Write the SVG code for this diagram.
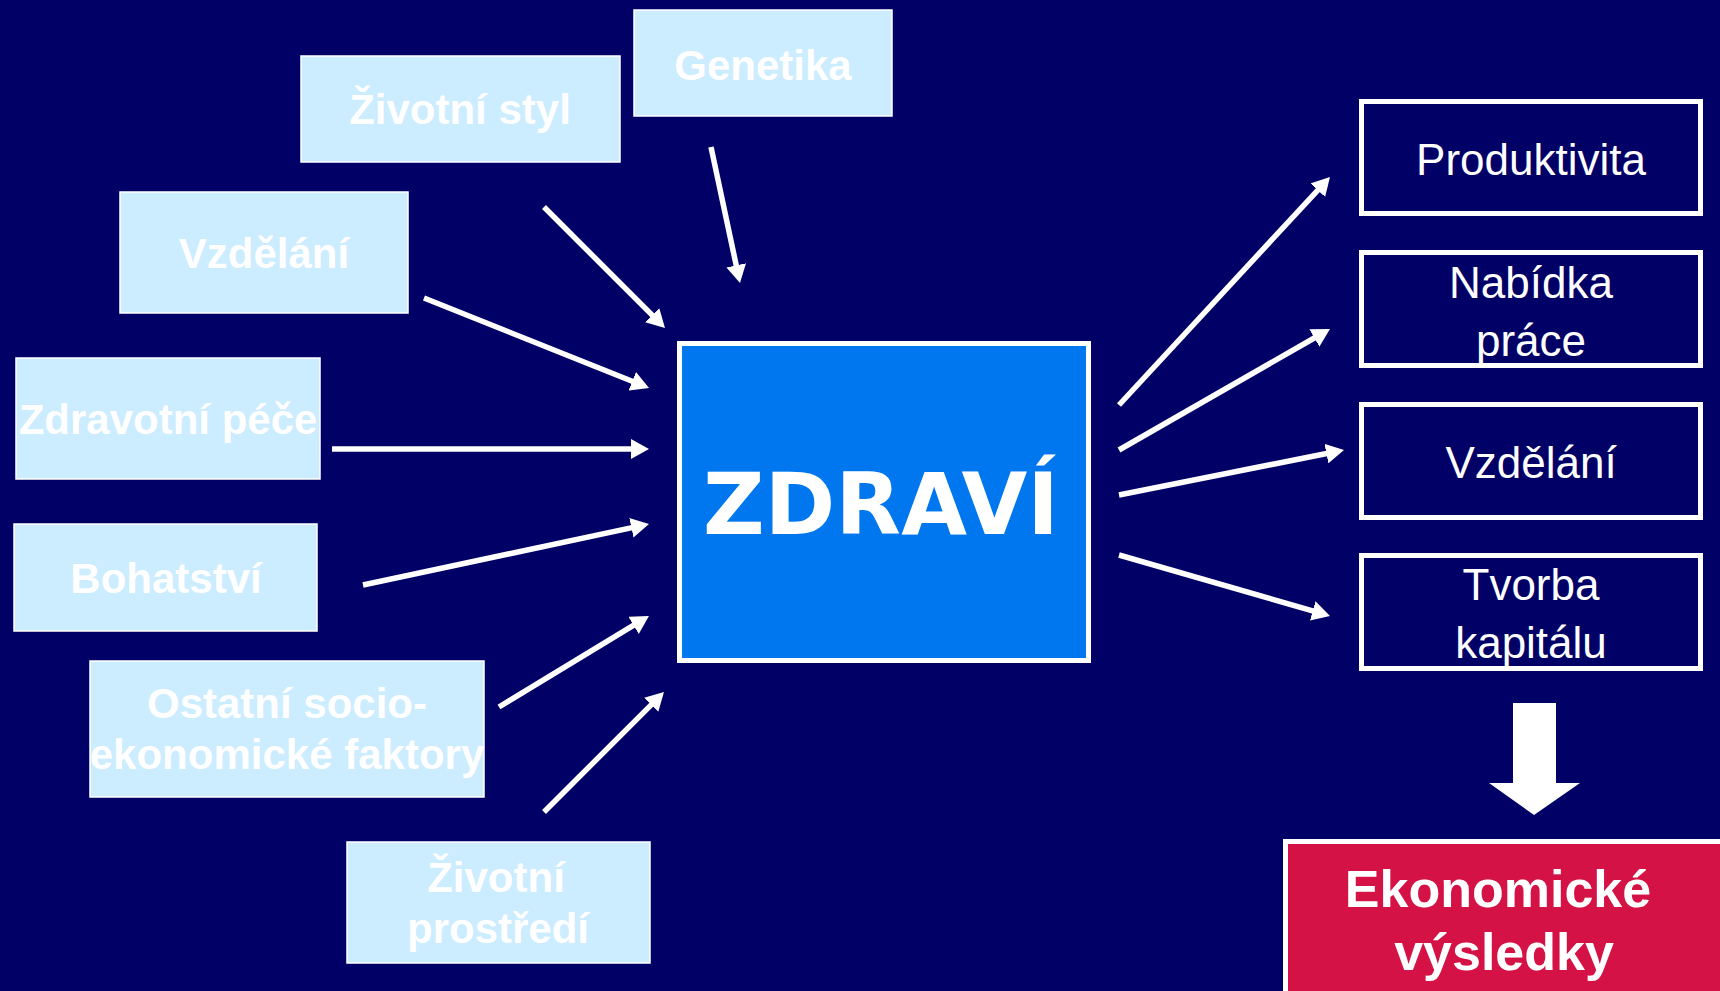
<svg xmlns="http://www.w3.org/2000/svg" width="1720" height="991" viewBox="0 0 1720 991">
<style>
.bg{fill:#000066}
.lb{fill:#CCECFF;stroke:#FFFFFF;stroke-width:1.5}
.lt{font-family:"Liberation Sans",Arial,sans-serif;font-weight:bold;font-size:42px;fill:#FFFFFF;text-anchor:middle}
.rb{fill:#000066;stroke:#FFFFFF;stroke-width:5}
.rt{font-family:"Liberation Sans",Arial,sans-serif;font-size:44px;fill:#FFFFFF;text-anchor:middle}
.con line{stroke:#FFFFFF;stroke-width:5.5;marker-end:url(#ah)}
</style>
<defs>
<marker id="ah" viewBox="0 0 18 20" refX="8" refY="10" markerWidth="18" markerHeight="20" markerUnits="userSpaceOnUse" orient="auto">
<path d="M0,0 L18,10 L0,20 z" fill="#FFFFFF"/>
</marker>
</defs>
<rect class="bg" x="0" y="0" width="1720" height="991"/>

<g id="genetika"><rect class="lb" x="634" y="10" width="258" height="106"/><text class="lt" x="763" y="80">Genetika</text></g>
<g id="zivotni-styl"><rect class="lb" x="301" y="56" width="319" height="106"/><text class="lt" x="460" y="124">Životní styl</text></g>
<g id="vzdelani-in"><rect class="lb" x="120" y="192" width="288" height="121"/><text class="lt" x="264" y="268">Vzdělání</text></g>
<g id="zdravotni-pece"><rect class="lb" x="16" y="358" width="304" height="121"/><text class="lt" x="168" y="434">Zdravotní péče</text></g>
<g id="bohatstvi"><rect class="lb" x="14" y="524" width="303" height="107"/><text class="lt" x="166" y="593">Bohatství</text></g>
<g id="ostatni"><rect class="lb" x="90" y="661" width="394" height="136"/><text class="lt" x="287" y="718">Ostatní socio-</text><text class="lt" x="287" y="769">ekonomické faktory</text></g>
<g id="zivotni-prostredi"><rect class="lb" x="347" y="842" width="303" height="121"/><text class="lt" x="496" y="892">Životní</text><text class="lt" x="498" y="943">prostředí</text></g>

<g id="zdravi"><rect x="679.5" y="343.5" width="409" height="317" fill="#0077EE" stroke="#FFFFFF" stroke-width="5"/><text x="881" y="534" font-family="'DejaVu Sans',Verdana,sans-serif" font-weight="bold" font-size="85" fill="#FFFFFF" text-anchor="middle" textLength="356" lengthAdjust="spacing">ZDRAVÍ</text></g>

<g id="produktivita"><rect class="rb" x="1361.5" y="101.5" width="339" height="112"/><text class="rt" x="1531" y="175">Produktivita</text></g>
<g id="nabidka-prace"><rect class="rb" x="1361.5" y="252.5" width="339" height="113"/><text class="rt" x="1531" y="298">Nabídka</text><text class="rt" x="1531" y="356">práce</text></g>
<g id="vzdelani-out"><rect class="rb" x="1361.5" y="404.5" width="339" height="113"/><text class="rt" x="1531" y="478">Vzdělání</text></g>
<g id="tvorba-kapitalu"><rect class="rb" x="1361.5" y="555.5" width="339" height="113"/><text class="rt" x="1531" y="600">Tvorba</text><text class="rt" x="1531" y="658">kapitálu</text></g>

<g id="ekonomicke-vysledky"><rect x="1285.5" y="841.5" width="460" height="180" fill="#D41245" stroke="#FFFFFF" stroke-width="5"/><text x="1498" y="907" font-family="'Liberation Sans',Arial,sans-serif" font-weight="bold" font-size="52" fill="#FFFFFF" text-anchor="middle">Ekonomické</text><text x="1504" y="970" font-family="'Liberation Sans',Arial,sans-serif" font-weight="bold" font-size="52" fill="#FFFFFF" text-anchor="middle">výsledky</text></g>

<g id="connectors" class="con">
<line x1="711" y1="147" x2="737.9" y2="273.2"/>
<line x1="544" y1="207" x2="657.9" y2="320.9"/>
<line x1="424" y1="298" x2="639.7" y2="384.3"/>
<line x1="332" y1="449" x2="639" y2="449"/>
<line x1="363" y1="585" x2="639.2" y2="526.1"/>
<line x1="499" y1="707" x2="640.4" y2="621.2"/>
<line x1="544" y1="812" x2="656.9" y2="699.1"/>
<line x1="1119" y1="405" x2="1323.2" y2="184.3"/>
<line x1="1119" y1="450" x2="1321.3" y2="334"/>
<line x1="1119" y1="495" x2="1334.2" y2="452"/>
<line x1="1119" y1="555" x2="1320.4" y2="613.2"/>
<polygon points="1513,703 1556,703 1556,783 1580,783 1534,815 1489,783 1513,783" fill="#FFFFFF" stroke="none"/>
</g>
</svg>
